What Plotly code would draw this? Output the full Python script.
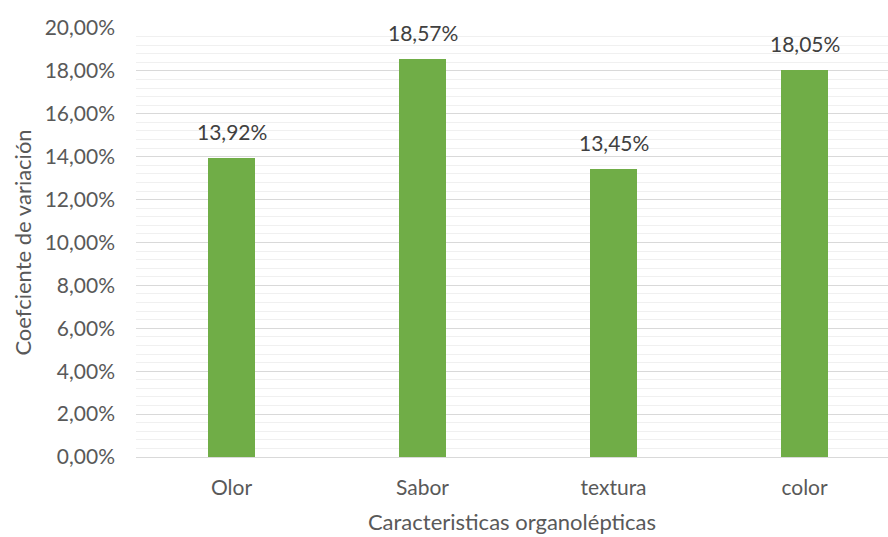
import plotly.graph_objects as go

categories = ["Olor", "Sabor", "textura", "color"]
values = [0.1392, 0.1857, 0.1345, 0.1805]
y_ticks = [0, 0.02, 0.04, 0.06, 0.08, 0.10, 0.12, 0.14, 0.16, 0.18, 0.20]

font = "Lato, 'Open Sans', sans-serif"

fig = go.Figure(go.Bar(
    x=list(range(len(categories))),
    y=values,
    width=0.25,
    marker=dict(color="#70AD47", line=dict(width=0)),
    hoverinfo="y",
))

for i, v in enumerate(values):
    fig.add_annotation(
        x=i, y=v, xref="x", yref="y",
        text=f"{v*100:.2f}%".replace(".", ","),
        showarrow=False, yanchor="bottom", yshift=12,
        font=dict(family=font, size=21, color="#404040"),
    )

fig.update_layout(
    width=888, height=537,
    margin=dict(l=136, r=0, t=28, b=80),
    paper_bgcolor="white", plot_bgcolor="white",
    separators=",.",
    showlegend=False,
    font=dict(family=font, color="#595959"),
    bargap=0,
)
fig.update_xaxes(
    tickmode="array",
    tickvals=list(range(len(categories))),
    ticktext=categories,
    range=[-0.5, 3.437],
    showgrid=False,
    showline=True, linecolor="#d9d9d9", linewidth=1,
    tickfont=dict(size=21, color="#595959"),
    ticks="", ticklen=0,
    ticklabelstandoff=12,
    title=dict(text="Caracteristicas organolépticas", font=dict(size=22, color="#595959"), standoff=16),
)
fig.update_yaxes(
    range=[0, 0.20],
    tickmode="array",
    tickvals=y_ticks,
    tickformat=".2%",
    showgrid=True, gridcolor="#d9d9d9", gridwidth=1,
    minor=dict(dtick=0.004, showgrid=True, gridcolor="#f0f0f0", gridwidth=1),
    zeroline=False,
    showline=False,
    tickfont=dict(size=21, color="#595959"),
    ticks="",
    ticklabelstandoff=20,
    title=dict(text="Coefciente de variación", font=dict(size=22, color="#595959"), standoff=6),
)

fig.write_html("out.html")
